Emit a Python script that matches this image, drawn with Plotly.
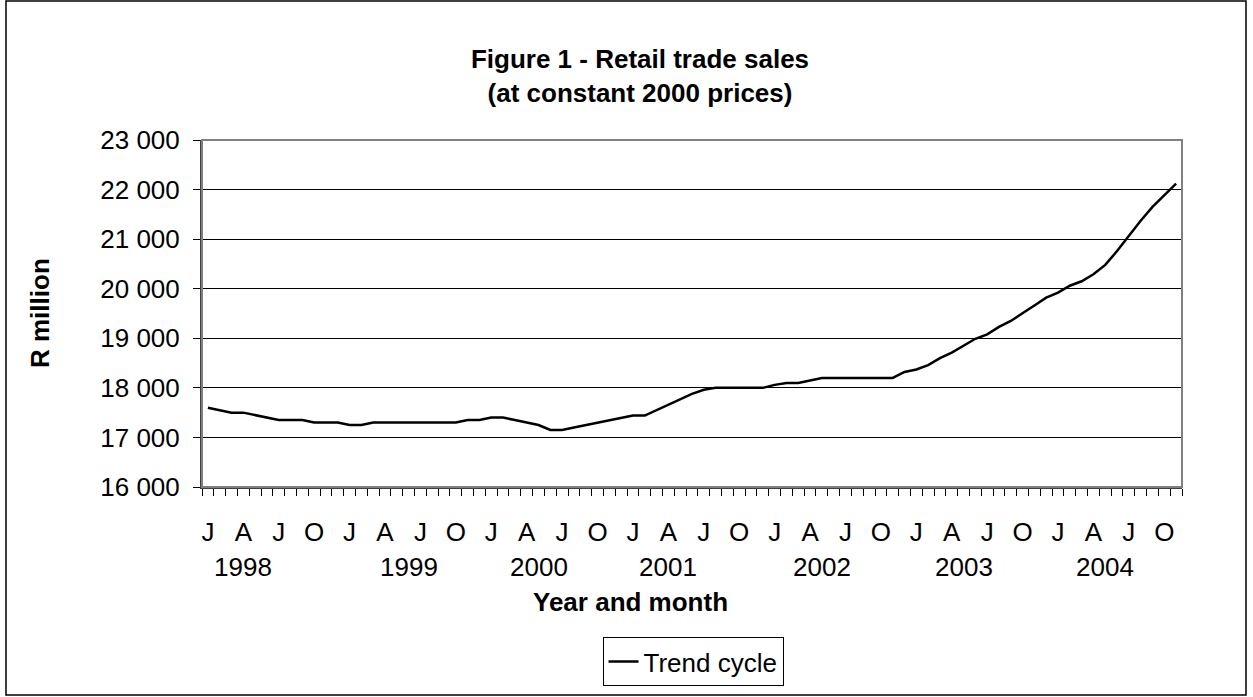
import plotly.graph_objects as go

# ---- data ----
month_letters = ["J", "F", "M", "A", "M", "J", "J", "A", "S", "O", "N", "D"]
trend_cycle = [
    17600, 17550, 17500, 17500, 17450, 17400, 17350, 17350, 17350, 17300, 17300, 17300,  # 1998
    17250, 17250, 17300, 17300, 17300, 17300, 17300, 17300, 17300, 17300, 17350, 17350,  # 1999
    17400, 17400, 17350, 17300, 17250, 17150, 17150, 17200, 17250, 17300, 17350, 17400,  # 2000
    17440, 17440, 17550, 17660, 17770, 17880, 17960, 18000, 18000, 18000, 18000, 18000,  # 2001
    18060, 18100, 18100, 18150, 18200, 18200, 18200, 18200, 18200, 18200, 18200, 18320,  # 2002
    18370, 18460, 18600, 18710, 18850, 18990, 19080, 19230, 19350, 19500, 19660, 19820,  # 2003
    19920, 20060, 20150, 20290, 20480, 20760, 21070, 21370, 21650, 21880, 22120,         # 2004 (Jan-Nov)
]
years = ["1998", "1999", "2000", "2001", "2002", "2003", "2004"]
year_label_pos = [3, 17, 28, 39, 52, 64, 76]   # month index under which each year label sits
y_ticks = [16000, 17000, 18000, 19000, 20000, 21000, 22000, 23000]
y_ticktext = ["16 000", "17 000", "18 000", "19 000", "20 000", "21 000", "22 000", "23 000"]

n = len(trend_cycle)
x_idx = list(range(n))
quarter_idx = [i for i in x_idx if i % 3 == 0]
quarter_txt = [month_letters[i % 12] for i in quarter_idx]

# ---- layout geometry (pixels) ----
W, H = 1253, 697
PL, PR, PT, PB = 202, 1182, 140, 487
pw, ph = PR - PL, PB - PT


def px(x):
    return (x - PL) / pw


def py(y):
    return (PB - y) / ph


FONT = "Liberation Sans, Arial, sans-serif"
FS = 26

fig = go.Figure()
fig.add_trace(go.Scatter(
    x=x_idx, y=trend_cycle, mode="lines", name="Trend cycle",
    line=dict(color="black", width=2.5),
))

fig.update_layout(
    width=W, height=H,
    margin=dict(l=PL, r=W - PR, t=PT, b=H - PB, autoexpand=False),
    paper_bgcolor="white", plot_bgcolor="white",
    font=dict(family=FONT, size=FS, color="black"),
    title=dict(
        text="<b>Figure 1 - Retail trade sales<br>(at constant 2000 prices)</b>",
        x=640 / W, xanchor="center", xref="container",
        y=1 - 68 / H, yref="container", yanchor="middle",
        font=dict(family=FONT, size=FS, color="black"),
    ),
    showlegend=True,
    legend=dict(
        orientation="h", x=px(693), xanchor="center", y=py(637), yanchor="top",
        bordercolor="black", borderwidth=1, bgcolor="white",
        font=dict(family=FONT, size=FS, color="black"),
    ),
    xaxis=dict(
        range=[-0.5, n - 0.5], tickmode="array", tickvals=quarter_idx, ticktext=quarter_txt,
        ticks="", showgrid=False, zeroline=False,
        showline=True, linecolor="#404040", linewidth=2,
        ticklabelstandoff=21,
        minor=dict(tickmode="linear", tick0=-0.5, dtick=1, ticks="outside",
                   ticklen=7, tickcolor="black", tickwidth=1, showgrid=False),
        automargin=False,
    ),
    yaxis=dict(
        range=[16000, 23000], tickmode="array", tickvals=y_ticks, ticktext=y_ticktext,
        ticks="outside", ticklen=7, tickcolor="black", tickwidth=1,
        showgrid=True, gridcolor="black", gridwidth=1, zeroline=False,
        showline=True, linecolor="#404040", linewidth=2,
        ticklabelstandoff=8,
        automargin=False,
    ),
)

# axis titles
fig.add_annotation(x=px(630), y=py(602), xref="paper", yref="paper",
                   text="<b>Year and month</b>", showarrow=False,
                   xanchor="center", yanchor="middle",
                   font=dict(family=FONT, size=FS, color="black"))
fig.add_annotation(x=px(40), y=py(313), xref="paper", yref="paper",
                   text="<b>R million</b>", showarrow=False, textangle=-90,
                   xanchor="center", yanchor="middle",
                   font=dict(family=FONT, size=FS, color="black"))

# year labels beneath month letters
for yr, pos in zip(years, year_label_pos):
    fig.add_annotation(x=pos, y=0, xref="x", yref="paper", text=yr, showarrow=False,
                       yanchor="middle", yshift=-(567 - PB),
                       font=dict(family=FONT, size=FS, color="black"))

# plot-area border (grey) and outer chart border (black)
fig.add_shape(type="rect", xref="paper", yref="paper", x0=0, x1=1, y0=0, y1=1,
              line=dict(color="#808080", width=2), layer="above")
fig.add_shape(type="rect", xref="paper", yref="paper",
              x0=px(6), x1=px(1246), y0=py(695), y1=py(1),
              line=dict(color="black", width=1.5), layer="above")

fig.write_html("out.html", config={"displayModeBar": False},
               post_script="document.body.style.margin='0';")
